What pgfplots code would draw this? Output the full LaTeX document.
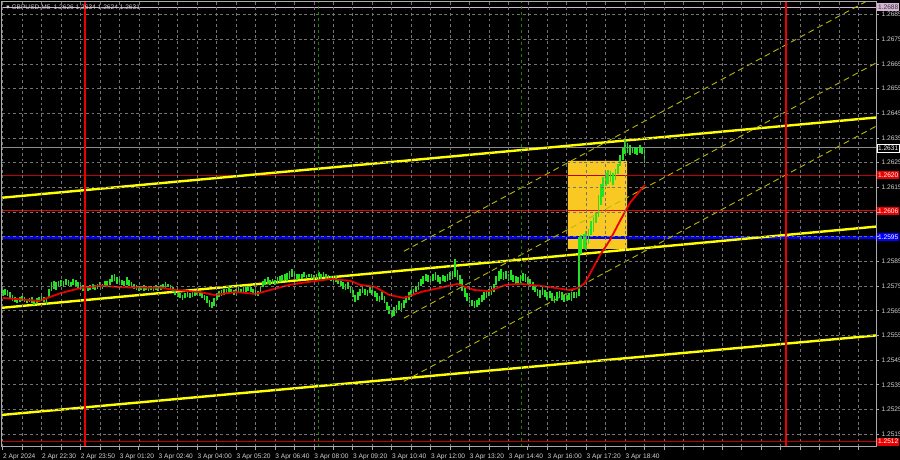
\documentclass[border=0pt]{standalone}
\usepackage{fontspec}
\setmainfont{Liberation Sans}
\newfontfamily\dejavu{DejaVu Sans}
\usepackage{pgfplots}
\usepackage{pgfplotstable}
\pgfplotsset{compat=1.18}

\definecolor{gridc}{RGB}{115,115,115}
\definecolor{framec}{RGB}{170,170,170}
\definecolor{txt}{RGB}{210,210,210}
\definecolor{candle}{RGB}{35,225,35}
\definecolor{trend}{RGB}{255,255,0}
\definecolor{chan}{RGB}{185,185,0}
\definecolor{mared}{RGB}{235,0,0}
\definecolor{boxc}{RGB}{250,200,35}
\definecolor{lvldark}{RGB}{190,0,0}
\definecolor{lvlred}{RGB}{235,0,0}
\definecolor{lvlblue}{RGB}{0,0,255}
\definecolor{pinkl}{RGB}{215,180,215}
\definecolor{grayl}{RGB}{140,140,140}
\definecolor{vgreen}{RGB}{30,130,0}

% y in pips above 1.2500, x in M5 bars from 2 Apr 21:10
\pgfplotstableread{
b lo hi
0 71.0 73.5
1 71.5 74.0
2 71.0 73.5
3 70.0 72.5
4 69.0 71.5
5 68.5 70.5
6 68.0 70.0
7 68.5 70.5
8 69.0 71.0
9 68.5 70.5
10 68.0 69.5
11 68.5 70.0
12 68.0 70.5
13 67.5 69.5
14 68.0 70.0
15 68.5 70.5
16 69.0 71.0
17 68.5 70.5
18 67.5 70.0
19 70.0 74.0
20 73.0 76.5
21 74.0 77.0
22 73.5 76.5
23 74.5 77.0
24 75.0 77.5
25 74.5 77.0
26 75.5 78.0
27 75.0 77.5
28 74.5 76.5
29 75.5 78.0
30 75.0 77.5
31 74.0 76.5
32 73.5 76.0
33 73.0 75.5
34 73.5 75.5
35 73.0 75.0
36 73.5 75.5
37 74.0 76.0
38 73.5 75.5
39 74.0 76.0
40 74.5 76.5
41 74.0 76.0
42 74.5 77.0
43 75.0 77.0
44 75.5 78.0
45 76.5 79.5
46 77.0 80.0
47 76.0 78.5
48 76.0 78.0
49 75.5 77.5
50 75.0 77.0
51 75.5 78.5
52 75.0 77.5
53 74.5 76.5
54 74.0 76.0
55 73.5 75.5
56 73.0 75.0
57 73.5 75.0
58 73.0 75.5
59 73.5 75.0
60 73.0 74.5
61 73.5 75.0
62 73.0 74.5
63 73.5 75.5
64 73.0 75.0
65 73.5 75.5
66 74.0 76.0
67 74.0 76.5
68 74.5 76.0
69 73.5 75.5
70 72.5 74.5
71 71.5 73.5
72 70.5 72.5
73 70.0 72.0
74 69.5 71.5
75 70.0 72.0
76 70.5 72.5
77 70.0 72.0
78 70.5 73.0
79 71.0 73.0
80 71.5 73.5
81 71.0 73.0
82 70.0 72.5
83 69.5 71.5
84 68.0 71.0
85 66.5 69.5
86 66.0 68.5
87 67.0 70.0
88 69.5 72.0
89 70.5 73.0
90 71.0 73.5
91 71.5 74.0
92 72.0 74.0
93 72.5 74.5
94 72.0 74.0
95 71.5 73.5
96 72.0 74.0
97 72.5 74.5
98 72.5 74.0
99 72.0 74.5
100 72.5 74.5
101 73.0 75.0
102 72.5 74.5
103 72.0 74.0
104 71.5 73.5
105 71.0 73.0
106 72.5 75.0
107 74.5 77.0
108 75.5 78.0
109 76.0 78.5
110 75.5 77.5
111 76.0 78.0
112 75.5 77.5
113 76.0 78.5
114 76.5 79.0
115 77.0 79.5
116 77.5 80.0
117 77.0 80.5
118 78.0 81.0
119 78.5 82.0
120 78.0 80.5
121 77.5 80.0
122 78.0 80.0
123 78.0 80.0
124 78.5 80.5
125 78.0 79.5
126 78.5 80.0
127 78.0 80.0
128 77.5 79.5
129 78.0 80.0
130 78.5 80.5
131 78.0 80.0
132 78.5 80.5
133 78.0 80.0
134 77.5 79.5
135 77.0 79.0
136 76.5 78.5
137 76.5 79.0
138 76.0 78.0
139 75.0 77.5
140 74.0 76.5
141 73.5 76.0
142 74.0 76.5
143 72.0 75.0
144 70.5 73.5
145 68.5 71.5
146 69.5 72.5
147 71.0 74.0
148 72.0 74.5
149 71.5 74.0
150 71.0 73.5
151 72.0 74.5
152 71.5 73.5
153 70.5 73.0
154 69.0 72.0
155 68.5 71.0
156 69.5 72.5
157 68.0 71.0
158 65.5 68.5
159 63.5 67.0
160 62.5 65.5
161 63.0 66.5
162 64.0 67.5
163 65.5 69.0
164 64.5 68.0
165 66.0 69.5
166 68.0 71.0
167 69.5 72.5
168 70.5 73.5
169 71.5 74.0
170 72.5 75.0
171 73.5 76.5
172 75.0 78.0
173 76.0 79.0
174 77.0 80.0
175 76.5 79.5
176 76.0 79.0
177 77.0 80.0
178 77.5 80.5
179 76.5 79.5
180 76.0 78.5
181 77.0 79.5
182 76.5 79.0
183 77.0 80.0
184 77.5 80.5
185 78.0 81.0
186 78.5 86.0
187 77.5 81.5
188 76.0 79.5
189 73.0 78.0
190 70.5 74.5
191 69.0 72.0
192 68.0 70.5
193 67.0 69.5
194 66.0 69.0
195 66.5 69.5
196 67.5 70.0
197 68.5 71.5
198 69.5 72.5
199 70.0 73.0
200 71.0 74.0
201 71.5 74.5
202 72.5 76.0
203 75.5 79.0
204 77.0 81.0
205 78.0 82.0
206 77.5 80.5
207 78.0 81.0
208 77.0 80.0
209 77.5 81.5
210 76.5 79.5
211 76.0 79.0
212 75.5 78.5
213 76.0 79.5
214 77.0 80.5
215 76.5 80.0
216 76.0 78.5
217 75.0 78.0
218 73.5 76.5
219 72.5 75.5
220 71.0 74.0
221 70.0 73.5
222 71.5 74.5
223 70.5 73.5
224 69.5 72.5
225 70.0 73.0
226 69.0 72.0
227 68.0 71.0
228 69.0 72.5
229 70.0 73.0
230 69.5 72.5
231 68.5 71.5
232 69.0 71.5
233 69.5 72.0
234 69.0 72.5
235 70.0 72.5
236 70.0 72.5
237 71.0 95.0
238 88.0 95.5
239 90.0 96.0
240 89.5 97.5
241 92.0 98.0
242 95.5 101.5
243 97.0 103.0
244 100.5 105.0
245 103.0 112.0
246 108.0 116.5
247 111.0 119.0
248 115.5 121.0
249 116.5 122.0
250 117.0 121.5
251 116.0 121.0
252 118.0 122.5
253 120.5 124.5
254 123.5 128.0
255 126.0 131.0
256 128.5 134.0
257 129.0 133.0
258 128.0 132.0
259 129.0 131.5
260 128.5 131.5
261 128.0 131.0
262 129.0 132.0
263 128.5 131.5
264 125.0 130.5
}\candles

\pgfplotstableread{
b p
0 70.2
15 69.0
24 72.2
32 74.2
40 75.1
50 74.5
65 74.3
71 73.4
81 72.6
87 71.4
96 72.6
104 71.8
110 73.4
118 75.5
126 76.7
135 77.9
143 77.1
147 75.5
153 74.7
159 71.4
165 70.2
172 72.6
180 74.3
187 75.9
190 74.7
194 73.4
200 73.0
207 75.5
213 75.9
221 75.1
227 74.3
233 73.4
237 74.3
239.5 76.3
242.4 81.6
245.7 87.6
249.8 93.7
253.9 101.4
258 108.7
261.3 112.7
264.2 116.0
}\mavg

\newcommand{\chfont}{\fontsize{3.3pt}{3.8pt}\selectfont}

\begin{document}
\begin{tikzpicture}
\fill[black] (0,0) rectangle (450pt,230pt);
\useasboundingbox (0,0) rectangle (450pt,230pt);
\begin{axis}[
  at={(1pt,6.5pt)}, anchor=south west,
  scale only axis, width=437pt, height=222.5pt,
  xmin=-0.3, xmax=359.2, ymin=9.8, ymax=190.1,
  axis on top, clip mode=individual,
  axis line style={draw=framec, line width=0.5pt},
  xtick={0,16,...,352},
  xticklabels={2 Apr 2024,2 Apr 22:30,2 Apr 23:50,3 Apr 01:20,3 Apr 02:40,3 Apr 04:00,3 Apr 05:20,3 Apr 06:40,3 Apr 08:00,3 Apr 09:20,3 Apr 10:40,3 Apr 12:00,3 Apr 13:20,3 Apr 14:40,3 Apr 16:00,3 Apr 17:20,3 Apr 18:40,{},{},{},{},{},{}},
  minor xtick={8,24,...,344},
  ytick={15,25,...,185},
  yticklabels={1.2515,1.2525,1.2535,1.2545,1.2555,1.2565,1.2575,1.2585,{},{},1.2615,1.2625,1.2635,1.2645,1.2655,1.2665,1.2675,1.2685},
  xtick pos=lower, ytick pos=upper, yticklabel pos=upper,
  tick align=outside, major tick length=1.5pt, minor tick length=1.5pt,
  tick style={draw=framec, line width=0.4pt},
  grid=both,
  major grid style={draw=gridc, line width=0.35pt, dash pattern=on 1.4pt off 1.4pt},
  minor grid style={draw=gridc, line width=0.35pt, dash pattern=on 1.4pt off 1.4pt},
  xticklabel style={font=\chfont, text=txt, anchor=north west, inner sep=0pt, yshift=-1.6pt},
  yticklabel style={font=\chfont, text=txt, anchor=west, inner sep=0pt, xshift=1.1pt},
]
% yellow box
\addplot[fill=boxc, draw=none, forget plot] coordinates {(232.5,90.1) (256.8,90.1) (256.8,125.7) (232.5,125.7) (232.5,90.1)};
% horizontal levels
\addplot[pinkl, line width=0.6pt] coordinates {(-0.3,188) (359.2,188)};
\addplot[grayl, line width=0.4pt] coordinates {(-0.3,131) (359.2,131)};
\addplot[lvldark, line width=0.5pt] coordinates {(-0.3,120) (359.2,120)};
\addplot[lvlred, line width=0.5pt] coordinates {(-0.3,105.5) (359.2,105.5)};
\addplot[lvldark, line width=0.5pt] coordinates {(-0.3,12) (359.2,12)};
\addplot[lvlblue, line width=1.6pt] coordinates {(-0.3,94.7) (359.2,94.7)};
% trend lines
\addplot[trend, line width=1.2pt] coordinates {(-0.3,110.8) (359.2,143.3)};
\addplot[trend, line width=1.2pt] coordinates {(-0.3,66.2) (359.2,99.1)};
\addplot[trend, line width=1.2pt] coordinates {(-0.3,22.8) (359.2,55.0)};
% regression channel
\addplot[chan, line width=0.45pt, dash pattern=on 3pt off 2pt] coordinates {(165,89.1) (360,192.9)};
\addplot[chan, line width=0.45pt, dash pattern=on 3pt off 2pt] coordinates {(165,62.0) (360,165.8)};
\addplot[chan, line width=0.45pt, dash pattern=on 3pt off 2pt] coordinates {(165,36.4) (360,140.2)};
% candles, high-low range of each bar
\addplot[draw=none, mark=none, forget plot,
  error bars/.cd, y dir=both, y explicit, error mark=none,
  error bar style={draw=candle, line width=0.85pt, solid}]
  table[x=b, y expr={(\thisrow{lo}+\thisrow{hi})/2}, y error expr={(\thisrow{hi}-\thisrow{lo})/2}] {\candles};
% moving average
\addplot[mared, line width=0.9pt] table[x=b, y=p] {\mavg};
% vertical lines
\addplot[lvlred, line width=0.7pt] coordinates {(33.9,9.8) (33.9,190.1)};
\addplot[lvlred, line width=0.7pt] coordinates {(322.2,9.8) (322.2,190.1)};
\addplot[vgreen, line width=0.6pt, dash pattern=on 1.5pt off 1.5pt] coordinates {(130,9.8) (130,190.1)};
\addplot[vgreen, line width=0.6pt, dash pattern=on 1.5pt off 1.5pt] coordinates {(213.5,9.8) (213.5,190.1)};
% price tags
\tikzset{tag/.style={anchor=west, inner sep=0pt, minimum width=11.2pt, minimum height=4pt, font=\chfont, xshift=0.3pt}}
\node[tag, fill=pinkl, text=black!80] at (axis cs:359.2,188) {1.2688};
\node[tag, fill=black, draw=white, line width=0.3pt, text=white] at (axis cs:359.2,131) {1.2631};
\node[tag, fill=lvlred, text=white] at (axis cs:359.2,120) {1.2620};
\node[tag, fill=lvlred, text=white] at (axis cs:359.2,105.5) {1.2606};
\node[tag, fill=lvlblue, text=white] at (axis cs:359.2,94.7) {1.2595};
\node[tag, fill=lvlred, text=white] at (axis cs:359.2,12) {1.2512};
% header
\node[anchor=north west, inner sep=0pt, font=\chfont, text=txt] at (rel axis cs:0,1) [xshift=2pt, yshift=-1.2pt] {{\dejavu ▾} GBPUSD,M5\enspace 1.2626 1.2634 1.2624 1.2631};
\end{axis}
\end{tikzpicture}
\end{document}
